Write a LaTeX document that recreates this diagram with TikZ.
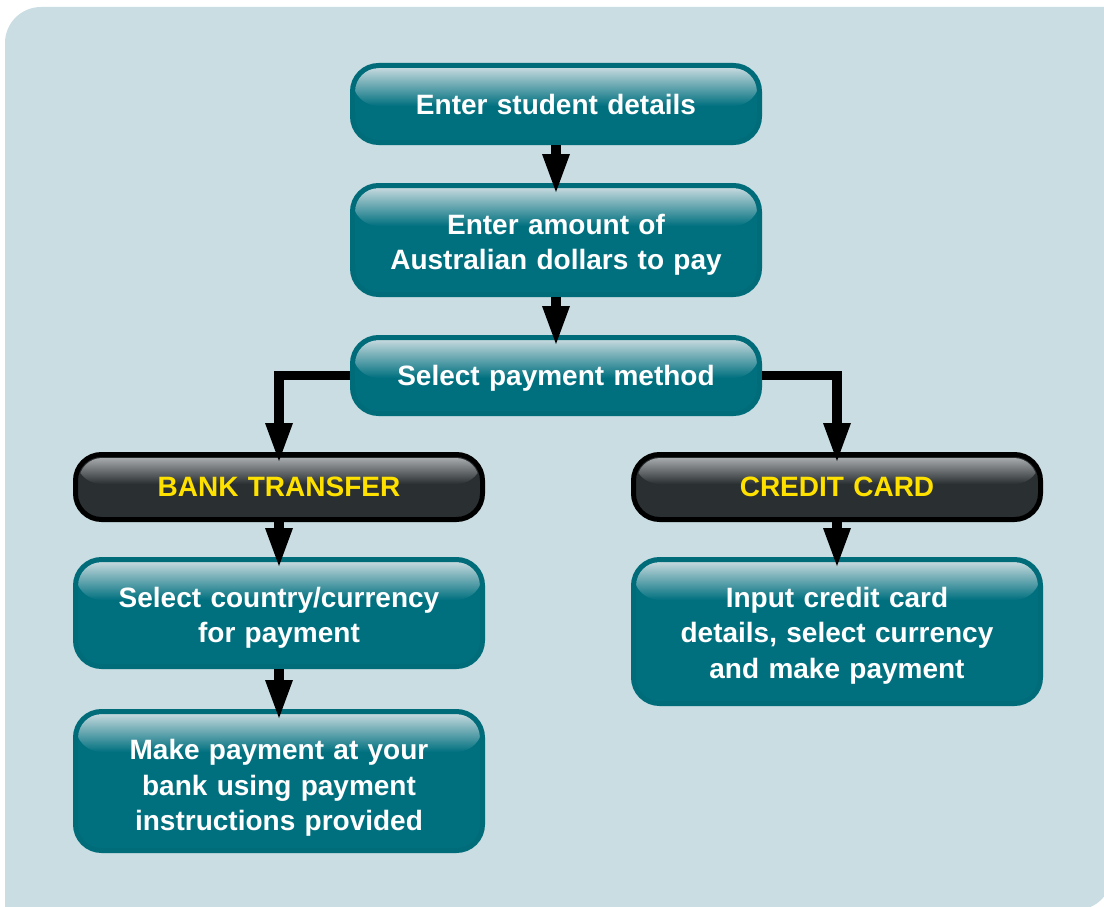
\documentclass[tikz,border=0pt]{standalone}
\usepackage{fontspec}
\setmainfont{Liberation Sans}
\usetikzlibrary{calc, arrows.meta}

\definecolor{panel}{HTML}{C9DDE2}
\definecolor{tealfill}{HTML}{00707F}
\definecolor{tealedge}{HTML}{006C7A}
\definecolor{tealhi}{HTML}{C3D8DD}
\definecolor{darkfill}{HTML}{2A2F32}
\definecolor{darkhi}{HTML}{A5A9AB}
\definecolor{labelyellow}{HTML}{FFE100}

\begin{document}
\begin{tikzpicture}[x=1pt, y=1pt,
    gloss/.style n args={4}{path picture={
        \begin{scope}
            \clip[rounded corners=23pt] ($(path picture bounding box.north west)+(#1,-#1)$) rectangle ($(path picture bounding box.south east)+(-#1,#1)$);
            \shade[top color=#2, middle color=#2!65!#3, bottom color=#3] ($(path picture bounding box.north west)+(0,-#1)$) rectangle ($(path picture bounding box.north east)+(0,-#1-#4)$);
        \end{scope}}},
    box/.style={rounded corners=26pt, minimum width=407pt, text width=400pt, align=center, inner sep=0pt,
        font=\fontsize{28}{35.5}\selectfont\bfseries},
    drop/.style={text depth=#1},
    stepbox/.style={box, draw=tealedge, line width=5pt, fill=tealfill, text=white, gloss={2.5}{tealhi}{tealfill}{38}},
    choice/.style={box, draw=black, line width=5pt, fill=darkfill, text=labelyellow, gloss={3.5}{darkhi}{darkfill}{26}},
    flow/.style={line width=9.5pt, -{Triangle[width=28pt, length=38pt, line width=0pt]}, shorten >=-9pt}]

    \useasboundingbox (0,0) rectangle (1104,-907);
    \fill[panel] (5,-43) arc[start angle=180, end angle=90, radius=36] -- (1112,-7) -- (1112,-874)
        arc[start angle=0, end angle=-90, radius=36] -- (5,-910) -- cycle;

    \node[stepbox, minimum height=77pt] (details) at (556,-104) {Enter student details};
    \node[stepbox, drop=31.4pt, minimum height=109pt] (amount) at (556,-240) {Enter amount of\\Australian dollars to pay};
    \node[stepbox, drop=0pt, minimum height=76pt] (method) at (556,-375.5) {Select payment method};

    \node[choice, minimum height=65pt] (bank) at (279,-487) {BANK TRANSFER};
    \node[choice, minimum height=65pt] (card) at (837,-487) {CREDIT CARD};

    \node[stepbox, drop=31.4pt, minimum height=107pt] (country) at (279,-613) {Select country/currency\\for payment};
    \node[stepbox, drop=62.9pt, minimum height=139pt] (bankpay) at (279,-781) {Make payment at your\\bank using payment\\instructions provided};
    \node[stepbox, drop=68.9pt, minimum height=144pt] (cardpay) at (837,-631.5) {Input credit card\\details, select currency\\and make payment};

    \draw[flow] (details) -- (amount);
    \draw[flow] (amount) -- (method);
    \draw[flow] (method.west) -| (bank.north);
    \draw[flow] (method.east) -| (card.north);
    \draw[flow] (bank) -- (country);
    \draw[flow] (country) -- (bankpay);
    \draw[flow] (card) -- (cardpay);
\end{tikzpicture}
\end{document}
